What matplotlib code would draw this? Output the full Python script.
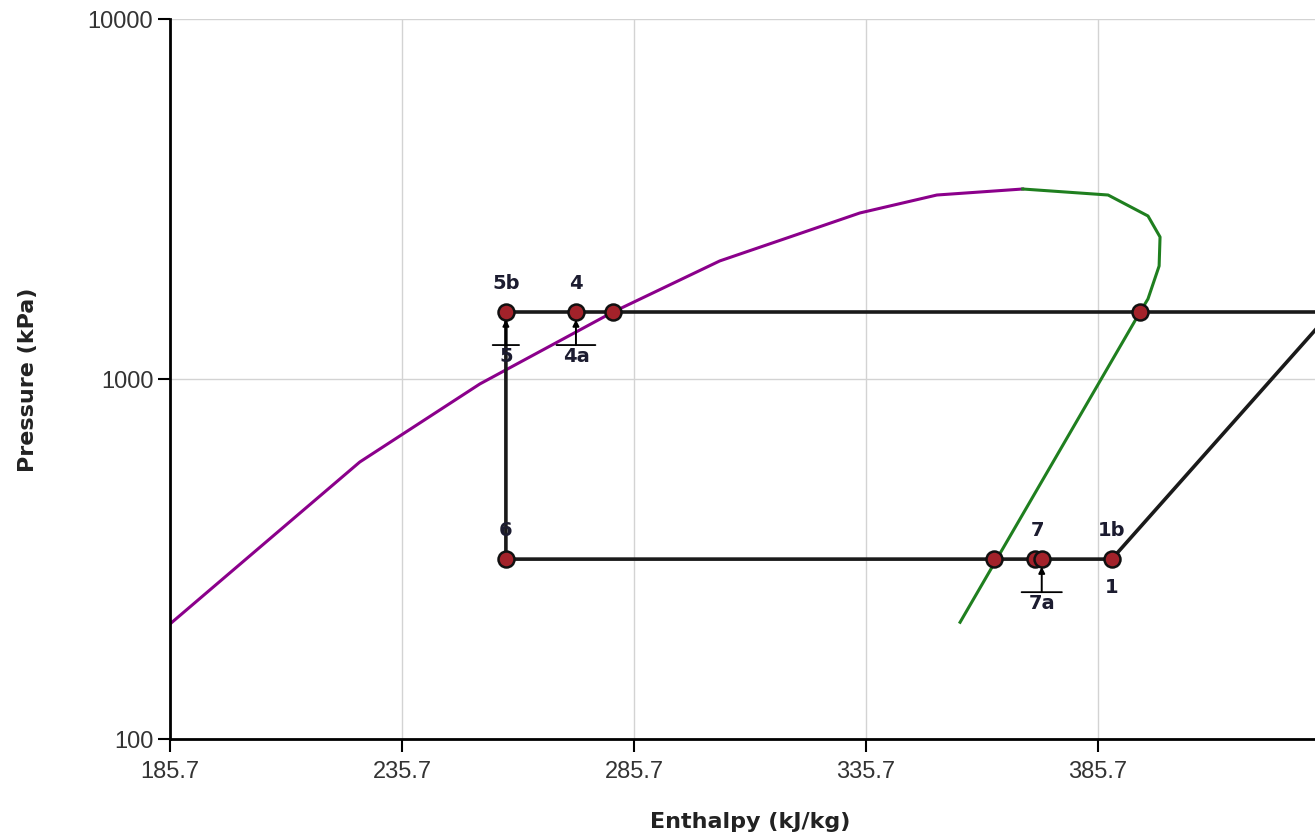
import matplotlib.pyplot as plt
from matplotlib.ticker import NullLocator
from matplotlib.text import OffsetFrom

# curva de saturação (líquido e vapor)
liq_h = [185.7, 226.6, 252.5, 281.2, 304.2, 319.3, 334.4, 351.0, 369.5]
liq_p = [208.7, 588, 969, 1535, 2128, 2480, 2892, 3244, 3371]
vap_h = [369.5, 387.9, 396.5, 399.1, 398.9, 396.5, 394.8, 356.0]
vap_p = [3371, 3244, 2837, 2480, 2060, 1669, 1535, 211]

# ciclo: 2 -> 5b -> 6 -> 1b -> 2
cycle_h = [436.0, 258.1, 258.1, 388.7, 436.0]
cycle_p = [1535, 1535, 316, 316, 1535]

# pontos marcados
mark_h = [258.1, 273.2, 281.2, 394.8, 258.1, 363.3, 372.2, 373.6, 388.7, 436.0]
mark_p = [1535, 1535, 1535, 1535, 316, 316, 316, 316, 316, 1535]

# rótulos acima dos pontos
top_lbl = ["5b", "4", "6", "7", "1b"]
top_h = [258.1, 273.2, 258.1, 372.6, 388.7]
top_p = [1535, 1535, 316, 316, 316]

# rótulos abaixo, com seta
arr_lbl = ["5", "4a", "7a"]
arr_h = [258.1, 273.2, 373.6]
arr_p = [1535, 1535, 316]
arr_w = [9.5, 14, 14.5]

# rótulo abaixo sem seta
bot_lbl = ["1"]
bot_h = [388.7]
bot_p = [316]

x_ticks = [185.7, 235.7, 285.7, 335.7, 385.7]
y_ticks = [100, 1000, 10000]

fig = plt.figure(figsize=(13.15, 8.37), dpi=100)
ax = fig.add_axes([170/1315, 97/837, 1 - 170/1315, 720/837])

ax.set_yscale("log")
ax.set_xlim(185.7, 432.5)
ax.set_ylim(100, 10000)
ax.set_xticks(x_ticks)
ax.set_xticklabels([f"{t:.1f}" for t in x_ticks])
ax.set_yticks(y_ticks)
ax.set_yticklabels([str(t) for t in y_ticks])
ax.yaxis.set_minor_locator(NullLocator())
ax.tick_params(length=9, width=1.5, labelsize=17, colors="black")
ax.tick_params(axis="x", pad=6)
ax.tick_params(axis="y", pad=3)
for lb in ax.get_xticklabels() + ax.get_yticklabels():
    lb.set_family("Liberation Sans")
    lb.set_color("#333333")

ax.grid(True, color="#d3d3d3", lw=1)
ax.set_axisbelow(True)
for s in ["top", "right"]:
    ax.spines[s].set_visible(False)
ax.spines["left"].set_linewidth(2)
ax.spines["bottom"].set_linewidth(2)

ax.plot(liq_h, liq_p, color="#8B008B", lw=2.2, zorder=2)
ax.plot(vap_h, vap_p, color="#1f7f1f", lw=2.2, zorder=2)
ax.plot(cycle_h, cycle_p, color="#1a1a1a", lw=2.6, zorder=3)
ax.plot(mark_h, mark_p, ls="none", marker="o", ms=11.5, mfc="#a3222a",
        mec="#111111", mew=1.8, zorder=4)

fnt = dict(fontsize=14, fontweight="bold", family="DejaVu Sans", color="#1c1c30",
           ha="center", va="center")

for lbl, h, p in zip(top_lbl, top_h, top_p):
    ax.annotate(lbl, xy=(h, p), xytext=(0, 21.5), textcoords="offset points", **fnt)

for lbl, h, p in zip(bot_lbl, bot_h, bot_p):
    ax.annotate(lbl, xy=(h, p), xytext=(0, -20), textcoords="offset points", **fnt)

for lbl, h, p, w in zip(arr_lbl, arr_h, arr_p, arr_w):
    ax.annotate(lbl, xy=(h, p), xytext=(0, -31.5), textcoords="offset points", **fnt)
    ax.annotate("", xy=(h, p), xytext=(0, -23.8), textcoords="offset points",
                arrowprops=dict(arrowstyle="-|>", color="black", lw=1.4,
                                shrinkA=0, shrinkB=5.5, mutation_scale=9),
                zorder=5)
    ref = OffsetFrom(ax.transData, (h, p))
    ax.annotate("", xy=(-w, -23.8), xycoords=ref, xytext=(w, -23.8), textcoords=ref,
                arrowprops=dict(arrowstyle="-", color="black", lw=1.3,
                                shrinkA=0, shrinkB=0), zorder=5)

ax.set_xlabel("Enthalpy (kJ/kg)", fontsize=16, fontweight="bold", family="DejaVu Sans",
              color="#222222", va="center")
ax.set_ylabel("Pressure (kPa)", fontsize=16, fontweight="bold", family="DejaVu Sans",
              color="#222222", va="center")
ax.xaxis.set_label_coords((750 - 170) / 1145, -(822 - 740) / 720)
ax.yaxis.set_label_coords(-(170 - 28) / 1145, (740 - 380) / 720)

plt.savefig("out.png", dpi=100)
